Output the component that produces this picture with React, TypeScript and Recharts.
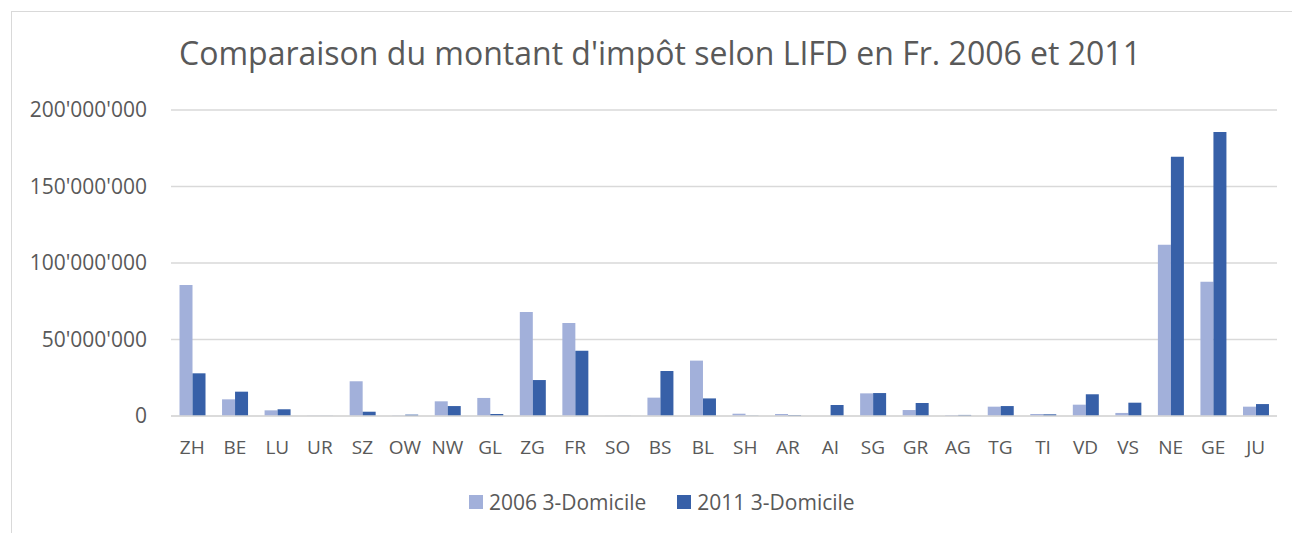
import React from "react";
import {
  Bar,
  BarChart,
  CartesianGrid,
  XAxis,
  YAxis,
} from "recharts";

// cantons
const cantons = [
  "ZH", "BE", "LU", "UR", "SZ", "OW", "NW", "GL", "ZG", "FR", "SO", "BS", "BL",
  "SH", "AR", "AI", "SG", "GR", "AG", "TG", "TI", "VD", "VS", "NE", "GE", "JU",
];

// tax amounts in Fr.
const values2006 = [
  85600000, 10900000, 3700000, 200000, 22700000, 300000, 9600000, 11800000,
  68000000, 60800000, 100000, 12000000, 36200000, 1500000, 1300000, 0,
  14800000, 3900000, 600000, 6100000, 1300000, 7400000, 2000000, 112000000,
  87800000, 6100000,
];

const values2011 = [
  27900000, 15900000, 4400000, 100000, 2800000, 900000, 6500000, 1300000,
  23500000, 42700000, 100000, 29400000, 11500000, 200000, 650000, 7200000,
  15000000, 8500000, 700000, 6500000, 1100000, 14200000, 8700000, 169500000,
  185600000, 7800000,
];

const yTicks = [0, 50000000, 100000000, 150000000, 200000000];

const series = [
  { key: "v2006", name: "2006 3-Domicile", color: "#A2B0DA" },
  { key: "v2011", name: "2011 3-Domicile", color: "#3760A8" },
];

const data = cantons.map((c, i) => ({
  canton: c,
  v2006: values2006[i],
  v2011: values2011[i],
}));

const FONT = "'Open Sans', sans-serif";
const TEXT = "#595959";

const fmt = (v: number) =>
  String(v).replace(/\B(?=(\d{3})+(?!\d))/g, "'");

const App: React.FC = () => {
  return (
    <div
      style={{
        position: "absolute",
        left: 0,
        top: 0,
        width: 1292,
        height: 535,
        background: "#fff",
        fontFamily: FONT,
        overflow: "hidden",
      }}
    >
      <div
        style={{
          position: "absolute",
          left: 11,
          top: 11,
          width: 1300,
          height: 522,
          borderLeft: "1.5px solid #d9d9d9",
          borderTop: "1.5px solid #d9d9d9",
          boxSizing: "border-box",
        }}
      />
      <div
        style={{
          position: "absolute",
          left: 0,
          width: 1320,
          top: 31,
          textAlign: "center",
          fontSize: 32,
          color: TEXT,
          whiteSpace: "nowrap",
          lineHeight: "44px",
        }}
      >
        Comparaison du montant d'impôt selon LIFD en Fr. 2006 et 2011
      </div>
      <div style={{ position: "absolute", left: 0, top: 0 }}>
        <BarChart
          width={1292}
          height={535}
          data={data}
          margin={{ top: 110, right: 15, bottom: 79, left: 11 }}
          barCategoryGap="20%"
          barGap={0}
        >
          <CartesianGrid vertical={false} stroke="#d9d9d9" strokeWidth={1.3} />
          <XAxis
            dataKey="canton"
            axisLine={{ stroke: "#d9d9d9", strokeWidth: 1.3 }}
            tickLine={false}
            tickSize={0}
            tickMargin={25}
            tick={{ fill: TEXT, fontSize: 19, fontFamily: FONT }}
            interval={0}
            height={40}
          />
          <YAxis
            width={160}
            domain={[0, 200000000]}
            ticks={yTicks}
            axisLine={false}
            tickLine={false}
            tickSize={0}
            tickMargin={24}
            tickFormatter={fmt}
            tick={{ fill: TEXT, fontSize: 21, fontFamily: FONT }}
          />
          {series.map((s) => (
            <Bar
              key={s.key}
              dataKey={s.key}
              name={s.name}
              fill={s.color}
              isAnimationActive={false}
            />
          ))}
        </BarChart>
      </div>
      <div
        style={{
          position: "absolute",
          left: 469,
          top: 488,
          display: "flex",
          alignItems: "center",
          fontSize: 21,
          color: TEXT,
          lineHeight: "28px",
          whiteSpace: "nowrap",
        }}
      >
        {series.map((s, i) => (
          <div
            key={s.key}
            style={{
              display: "flex",
              alignItems: "center",
              marginLeft: i === 0 ? 0 : 31,
            }}
          >
            <span
              style={{
                display: "inline-block",
                width: 14,
                height: 14,
                background: s.color,
                marginRight: 6,
              }}
            />
            <span>{s.name}</span>
          </div>
        ))}
      </div>
    </div>
  );
};

export default App;
